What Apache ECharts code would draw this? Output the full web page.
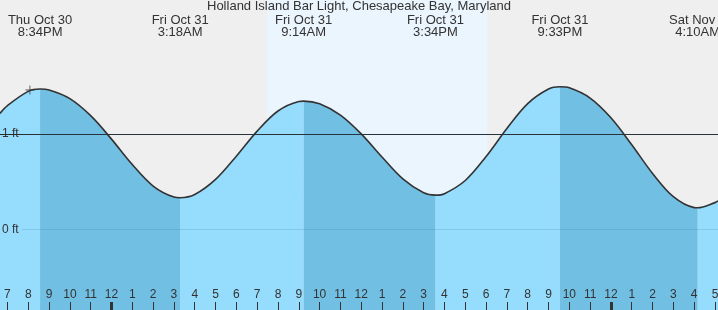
<!DOCTYPE html>
<html>
<head>
<meta charset="utf-8">
<script src="https://cdn.jsdelivr.net/npm/echarts@6/dist/echarts.min.js"></script>
<style>
  html, body { margin: 0; padding: 0; background: #efefef; }
  #chart { width: 718px; height: 310px; }
</style>
</head>
<body>
<div id="chart"></div>
<script>
// ---- data (hours counted from Fri Oct 31 00:00 local time) ----
const chartTitle = 'Holland Island Bar Light, Chesapeake Bay, Maryland';

const hours = [-5.36, -5, -4, -3.433, -3, -2, -1, 0, 1, 2, 3, 3.3, 4, 5, 6, 7, 8, 9, 9.233,
  10, 11, 12, 13, 14, 15, 15.567, 16, 17, 18, 19, 20, 21, 21.55, 22, 23, 24, 25, 26, 27, 28, 28.167, 29, 29.15];
const tideFt = [1.217, 1.299, 1.448, 1.472, 1.463, 1.372, 1.193, 0.947, 0.680, 0.455, 0.339, 0.332, 0.366, 0.524, 0.768, 1.031, 1.242, 1.342, 1.346,
  1.318, 1.199, 1.002, 0.759, 0.530, 0.384, 0.360, 0.375, 0.513, 0.764, 1.058, 1.319, 1.472, 1.496, 1.485, 1.378, 1.171, 0.888, 0.587, 0.343, 0.229, 0.227, 0.281, 0.300];

const extremeHours = [-3.433, 3.3, 9.233, 15.567, 21.55, 28.167];
const extremeKinds = ['H', 'L', 'H', 'L', 'H', 'L'];
const extremeDays = ['Thu Oct 30', 'Fri Oct 31', 'Fri Oct 31', 'Fri Oct 31', 'Fri Oct 31', 'Sat Nov 1'];
const extremeTimes = ['8:34PM', '3:18AM', '9:14AM', '3:34PM', '9:33PM', '4:10AM'];

const hourTicks = [-5, -4, -3, -2, -1, 0, 1, 2, 3, 4, 5, 6, 7, 8, 9, 10, 11, 12, 13, 14, 15, 16, 17, 18, 19, 20, 21, 22, 23, 24, 25, 26, 27, 28, 29];
const hourLabels = ['7', '8', '9', '10', '11', '12', '1', '2', '3', '4', '5', '6', '7', '8', '9', '10', '11', '12', '1', '2', '3', '4', '5', '6', '7', '8', '9', '10', '11', '12', '1', '2', '3', '4', '5'];
const midnightHours = [0, 24];

const yLabelValues = [0, 1];
const referenceFt = 1;
const sunriseHour = 7.47;
const sunsetHour = 18.06;
const nowHour = -3.92;
const nowFt = 1.462;

// ---- view ranges ----
const xMin = -5.358, xMax = 29.145;
const yMin = -0.845, yMax = 2.406;
const gridLineStartHour = -4.3;

const FONT = '"Liberation Sans", Arial, sans-serif';
const TXT = '#333';

function idxOf(arr, v) {
  for (let i = 0; i < arr.length; i++) if (Math.abs(arr[i] - v) < 1e-6) return i;
  return -1;
}
function inSegment(h, rising) {
  if (idxOf(extremeHours, h) >= 0) return true;
  let k = extremeHours.findIndex(e => e > h);
  let nextKind;
  if (k === -1) nextKind = extremeKinds[extremeKinds.length - 1] === 'L' ? 'H' : 'L';
  else nextKind = extremeKinds[k];
  return (nextKind === 'H') === rising;
}
function segData(rising) {
  return hours.map((h, i) => inSegment(h, rising) ? [h, tideFt[i]] : [h, null]);
}
const curve = hours.map((h, i) => [h, tideFt[i]]);

const gridBase = { left: 0, right: 0, top: 0, bottom: 0, containLabel: false, outerBoundsMode: 'none' };
const SMOOTH = 0.34;

const chart = echarts.init(document.getElementById('chart'), null, { renderer: 'canvas' });
chart.setOption({
  backgroundColor: '#efefef',
  animation: false,
  title: {
    text: chartTitle, left: 'center', top: 0, padding: 0,
    textStyle: { fontSize: 13, fontWeight: 'normal', color: TXT, fontFamily: FONT }
  },
  grid: [Object.assign({}, gridBase), Object.assign({}, gridBase)],
  xAxis: [
    {
      type: 'value', gridIndex: 0, position: 'bottom', min: xMin, max: xMax, z: 10,
      axisLine: { show: false, onZero: false }, splitLine: { show: false },
      axisTick: { show: true, inside: true, length: 8, customValues: hourTicks, lineStyle: { color: TXT, width: 1 } },
      axisLabel: {
        show: true, inside: true, margin: 9.5, customValues: hourTicks,
        formatter: v => hourLabels[idxOf(hourTicks, v)],
        color: TXT, fontSize: 12, fontFamily: FONT
      }
    },
    {
      type: 'value', gridIndex: 0, position: 'top', min: xMin, max: xMax, z: 10,
      axisLine: { show: false, onZero: false }, splitLine: { show: false }, axisTick: { show: false },
      axisLabel: {
        show: true, inside: true, margin: 14, customValues: extremeHours,
        formatter: v => { const i = idxOf(extremeHours, v); return extremeDays[i] + '\n' + extremeTimes[i]; },
        color: TXT, fontSize: 13, lineHeight: 12, fontFamily: FONT, align: 'center'
      }
    },
    {
      type: 'value', gridIndex: 1, position: 'bottom', min: xMin, max: xMax, z: 11,
      axisLine: { show: false, onZero: false }, splitLine: { show: false },
      axisTick: { show: true, inside: true, length: 8, customValues: midnightHours, lineStyle: { color: TXT, width: 3 } },
      axisLabel: { show: false }
    }
  ],
  yAxis: [
    {
      type: 'value', gridIndex: 0, min: yMin, max: yMax, z: 10,
      axisLine: { show: false, onZero: false }, axisTick: { show: false }, splitLine: { show: false },
      axisLabel: {
        show: true, inside: true, margin: 2, customValues: yLabelValues,
        formatter: v => v + ' ft', color: TXT, fontSize: 12, fontFamily: FONT
      }
    },
    {
      type: 'value', gridIndex: 1, min: yMin, max: yMax, show: false,
      axisLine: { onZero: false }
    }
  ],
  series: [
    {
      name: 'background', type: 'line', xAxisIndex: 0, yAxisIndex: 0, z: 1,
      data: curve, symbol: 'none', lineStyle: { opacity: 0 }, silent: true,
      markArea: {
        silent: true,
        itemStyle: { color: '#ebf5fe' },
        data: [[{ xAxis: sunriseHour }, { xAxis: sunsetHour }]]
      },
      markLine: {
        silent: true, symbol: ['none', 'none'], label: { show: false },
        lineStyle: { color: '#2a2a2a', width: 1, type: 'solid' },
        data: [{ yAxis: referenceFt }]
      }
    },
    {
      name: 'rising', type: 'line', xAxisIndex: 0, yAxisIndex: 0, z: 2,
      data: segData(true), smooth: SMOOTH, symbol: 'none', connectNulls: false,
      lineStyle: { width: 0 },
      areaStyle: { color: '#96dcfc', opacity: 1, origin: 'start' }
    },
    {
      name: 'falling', type: 'line', xAxisIndex: 0, yAxisIndex: 0, z: 2,
      data: segData(false), smooth: SMOOTH, symbol: 'none', connectNulls: false,
      lineStyle: { width: 0 },
      areaStyle: { color: '#71c0e4', opacity: 1, origin: 'start' }
    },
    {
      name: 'tide', type: 'line', xAxisIndex: 0, yAxisIndex: 0, z: 4,
      data: curve, smooth: SMOOTH, symbol: 'none',
      lineStyle: { color: '#333', width: 1.6 },
      markLine: {
        silent: true, symbol: ['none', 'none'], label: { show: false },
        lineStyle: { color: 'rgba(30,100,150,0.16)', width: 1, type: 'solid' },
        data: yLabelValues.map(v => [{ coord: [gridLineStartHour, v] }, { coord: [xMax, v] }])
      }
    },
    {
      name: 'now', type: 'scatter', xAxisIndex: 0, yAxisIndex: 0, z: 5,
      data: [[nowHour, nowFt]],
      symbol: 'path://M4.5,0h1v10h-1zM0,4.5h10v1h-10z', symbolSize: 9,
      itemStyle: { color: '#333' }, silent: true
    }
  ]
});
</script>
</body>
</html>
